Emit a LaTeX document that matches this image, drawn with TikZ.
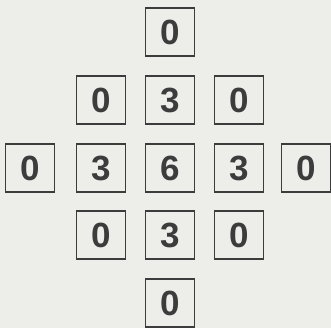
\documentclass[tikz,border=0pt]{standalone}
\usepackage{fontspec}
\setmainfont{Liberation Sans}
\definecolor{cPaper}{HTML}{EDEDEA}
\definecolor{cInk}  {HTML}{3C3C3C}

\begin{document}
\begin{tikzpicture}[x=1pt, y=1pt,
      cell/.style = {draw=cInk, line width=1.4pt, fill=cPaper, minimum width=49pt, minimum height=48pt, inner sep=0pt, text=cInk, font=\fontsize{35}{35}\selectfont\bfseries} ]
    \fill[cPaper] (0,0) rectangle (331,328);
    \useasboundingbox (0,0) rectangle (331,328);
    \node[cell] (t)  at (170,296) {0};
    \node[cell] (nw) at (101,228) {0};
    \node[cell] (n)  at (170,228) {3};
    \node[cell] (ne) at (239,228) {0};
    \node[cell] (ww) at (30,160)  {0};
    \node[cell] (w)  at (101,160) {3};
    \node[cell] (c)  at (170,160) {6};
    \node[cell] (e)  at (239,160) {3};
    \node[cell] (ee) at (306,160) {0};
    \node[cell] (sw) at (101,93)  {0};
    \node[cell] (s)  at (170,93)  {3};
    \node[cell] (se) at (239,93)  {0};
    \node[cell] (b)  at (170,25)  {0};
  \end{tikzpicture}
\end{document}
